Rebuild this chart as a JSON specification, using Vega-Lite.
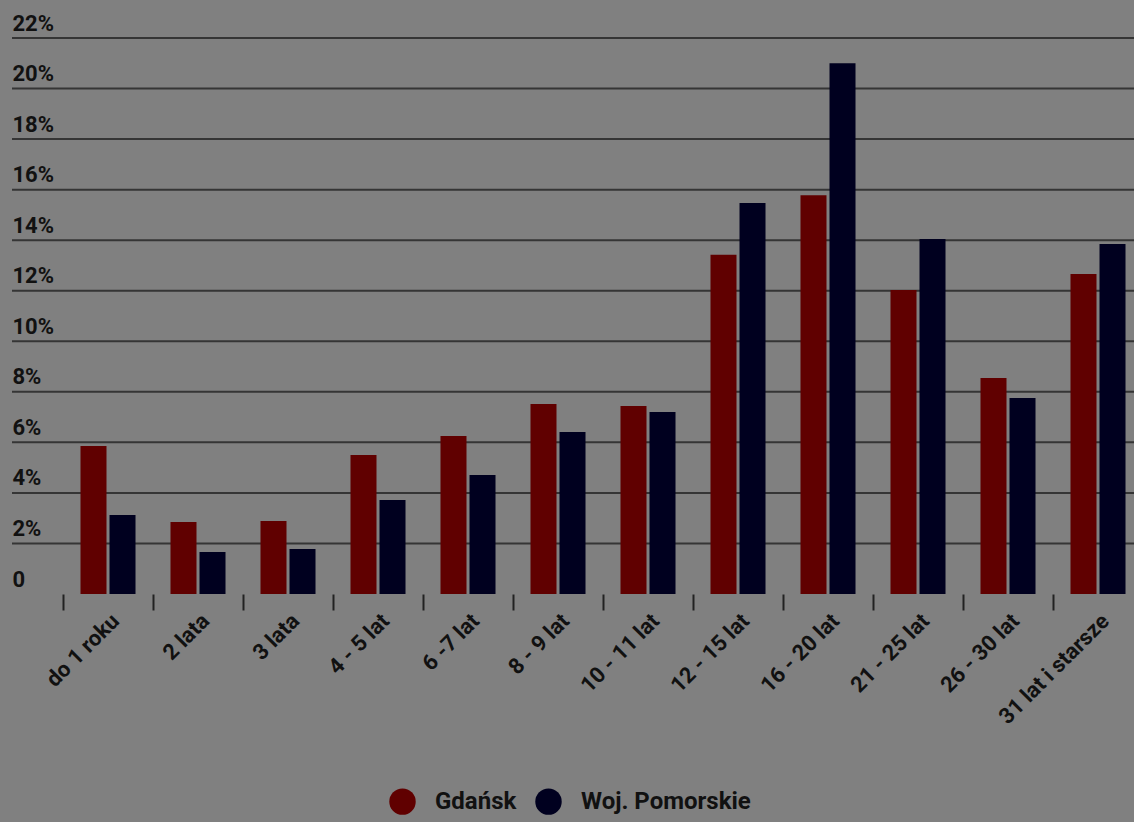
{
  "$schema": "https://vega.github.io/schema/vega-lite/v6.json",
  "width": 1122,
  "height": 556,
  "autosize": {"type": "none"},
  "padding": {"left": 12, "top": 38, "right": 0, "bottom": 228},
  "background": "#808080",
  "config": {"view": {"stroke": null}, "font": "Roboto"},
  "layer": [
    {
      "data": {"values": [
        {"poziom": 2}, {"poziom": 4}, {"poziom": 6}, {"poziom": 8}, {"poziom": 10}, {"poziom": 12},
        {"poziom": 14}, {"poziom": 16}, {"poziom": 18}, {"poziom": 20}, {"poziom": 22}
      ]},
      "mark": {"type": "rule", "color": "#353535", "strokeWidth": 2},
      "encoding": {"y": {"field": "poziom", "type": "quantitative"}}
    },
    {
      "data": {"values": [
        {"grupa": "do 1 roku", "seria": "Gdańsk", "wartosc": 5.86},
        {"grupa": "do 1 roku", "seria": "Woj. Pomorskie", "wartosc": 3.13},
        {"grupa": "2 lata", "seria": "Gdańsk", "wartosc": 2.85},
        {"grupa": "2 lata", "seria": "Woj. Pomorskie", "wartosc": 1.66},
        {"grupa": "3 lata", "seria": "Gdańsk", "wartosc": 2.89},
        {"grupa": "3 lata", "seria": "Woj. Pomorskie", "wartosc": 1.78},
        {"grupa": "4 - 5 lat", "seria": "Gdańsk", "wartosc": 5.5},
        {"grupa": "4 - 5 lat", "seria": "Woj. Pomorskie", "wartosc": 3.72},
        {"grupa": "6 -7 lat", "seria": "Gdańsk", "wartosc": 6.25},
        {"grupa": "6 -7 lat", "seria": "Woj. Pomorskie", "wartosc": 4.71},
        {"grupa": "8 - 9 lat", "seria": "Gdańsk", "wartosc": 7.52},
        {"grupa": "8 - 9 lat", "seria": "Woj. Pomorskie", "wartosc": 6.41},
        {"grupa": "10 - 11 lat", "seria": "Gdańsk", "wartosc": 7.44},
        {"grupa": "10 - 11 lat", "seria": "Woj. Pomorskie", "wartosc": 7.2},
        {"grupa": "12 - 15 lat", "seria": "Gdańsk", "wartosc": 13.42},
        {"grupa": "12 - 15 lat", "seria": "Woj. Pomorskie", "wartosc": 15.47},
        {"grupa": "16 - 20 lat", "seria": "Gdańsk", "wartosc": 15.78},
        {"grupa": "16 - 20 lat", "seria": "Woj. Pomorskie", "wartosc": 21.0},
        {"grupa": "21 - 25 lat", "seria": "Gdańsk", "wartosc": 12.03},
        {"grupa": "21 - 25 lat", "seria": "Woj. Pomorskie", "wartosc": 14.05},
        {"grupa": "26 - 30 lat", "seria": "Gdańsk", "wartosc": 8.55},
        {"grupa": "26 - 30 lat", "seria": "Woj. Pomorskie", "wartosc": 7.76},
        {"grupa": "31 lat i starsze", "seria": "Gdańsk", "wartosc": 12.66},
        {"grupa": "31 lat i starsze", "seria": "Woj. Pomorskie", "wartosc": 13.85}
      ]},
      "mark": {"type": "bar"},
      "encoding": {
        "x": {
          "field": "grupa", "type": "nominal", "sort": null,
          "scale": {"range": [51, 1131], "paddingInner": 0, "paddingOuter": 0},
          "axis": {
            "title": null, "domain": false, "grid": false, "tickBand": "extent",
            "tickSize": 16, "tickWidth": 2, "tickColor": "#222",
            "labelAngle": -45, "labelFontSize": 22, "labelFontWeight": "bold",
            "labelColor": "#111", "labelPadding": 0, "labelOverlap": false, "labelBound": false
          }
        },
        "xOffset": {
          "field": "seria", "type": "nominal", "sort": ["Gdańsk", "Woj. Pomorskie"],
          "scale": {"paddingInner": 0.1034, "paddingOuter": 0.603}
        },
        "y": {
          "field": "wartosc", "type": "quantitative",
          "scale": {"domain": [0, 22], "nice": false},
          "axis": {
            "title": null, "grid": false,
            "domain": false, "ticks": false, "tickSize": 0,
            "values": [0, 2, 4, 6, 8, 10, 12, 14, 16, 18, 20, 22],
            "labelExpr": "datum.value == 0 ? '0' : datum.value + '%'",
            "labelAlign": "left", "labelBaseline": "alphabetic", "labelPadding": 0, "labelOffset": -8,
            "labelFontSize": 22, "labelFontWeight": "bold", "labelColor": "#111",
            "labelBound": false, "labelOverlap": false, "labelFlush": false
          }
        },
        "color": {
          "field": "seria", "type": "nominal",
          "scale": {"domain": ["Gdańsk", "Woj. Pomorskie"], "range": ["#600000", "#00001f"]},
          "legend": {
            "orient": "none", "legendX": 377, "legendY": 750, "direction": "horizontal",
            "title": null, "symbolType": "circle", "symbolSize": 700, "symbolStrokeWidth": 0,
            "labelFontSize": 24, "labelFontWeight": "bold", "labelColor": "#111",
            "labelOffset": 19, "columnPadding": 18, "labelLimit": 400
          }
        }
      }
    },
    {
      "mark": {"type": "rule", "color": "#000", "strokeWidth": 3},
      "encoding": {"y": {"datum": 0}}
    }
  ]
}
